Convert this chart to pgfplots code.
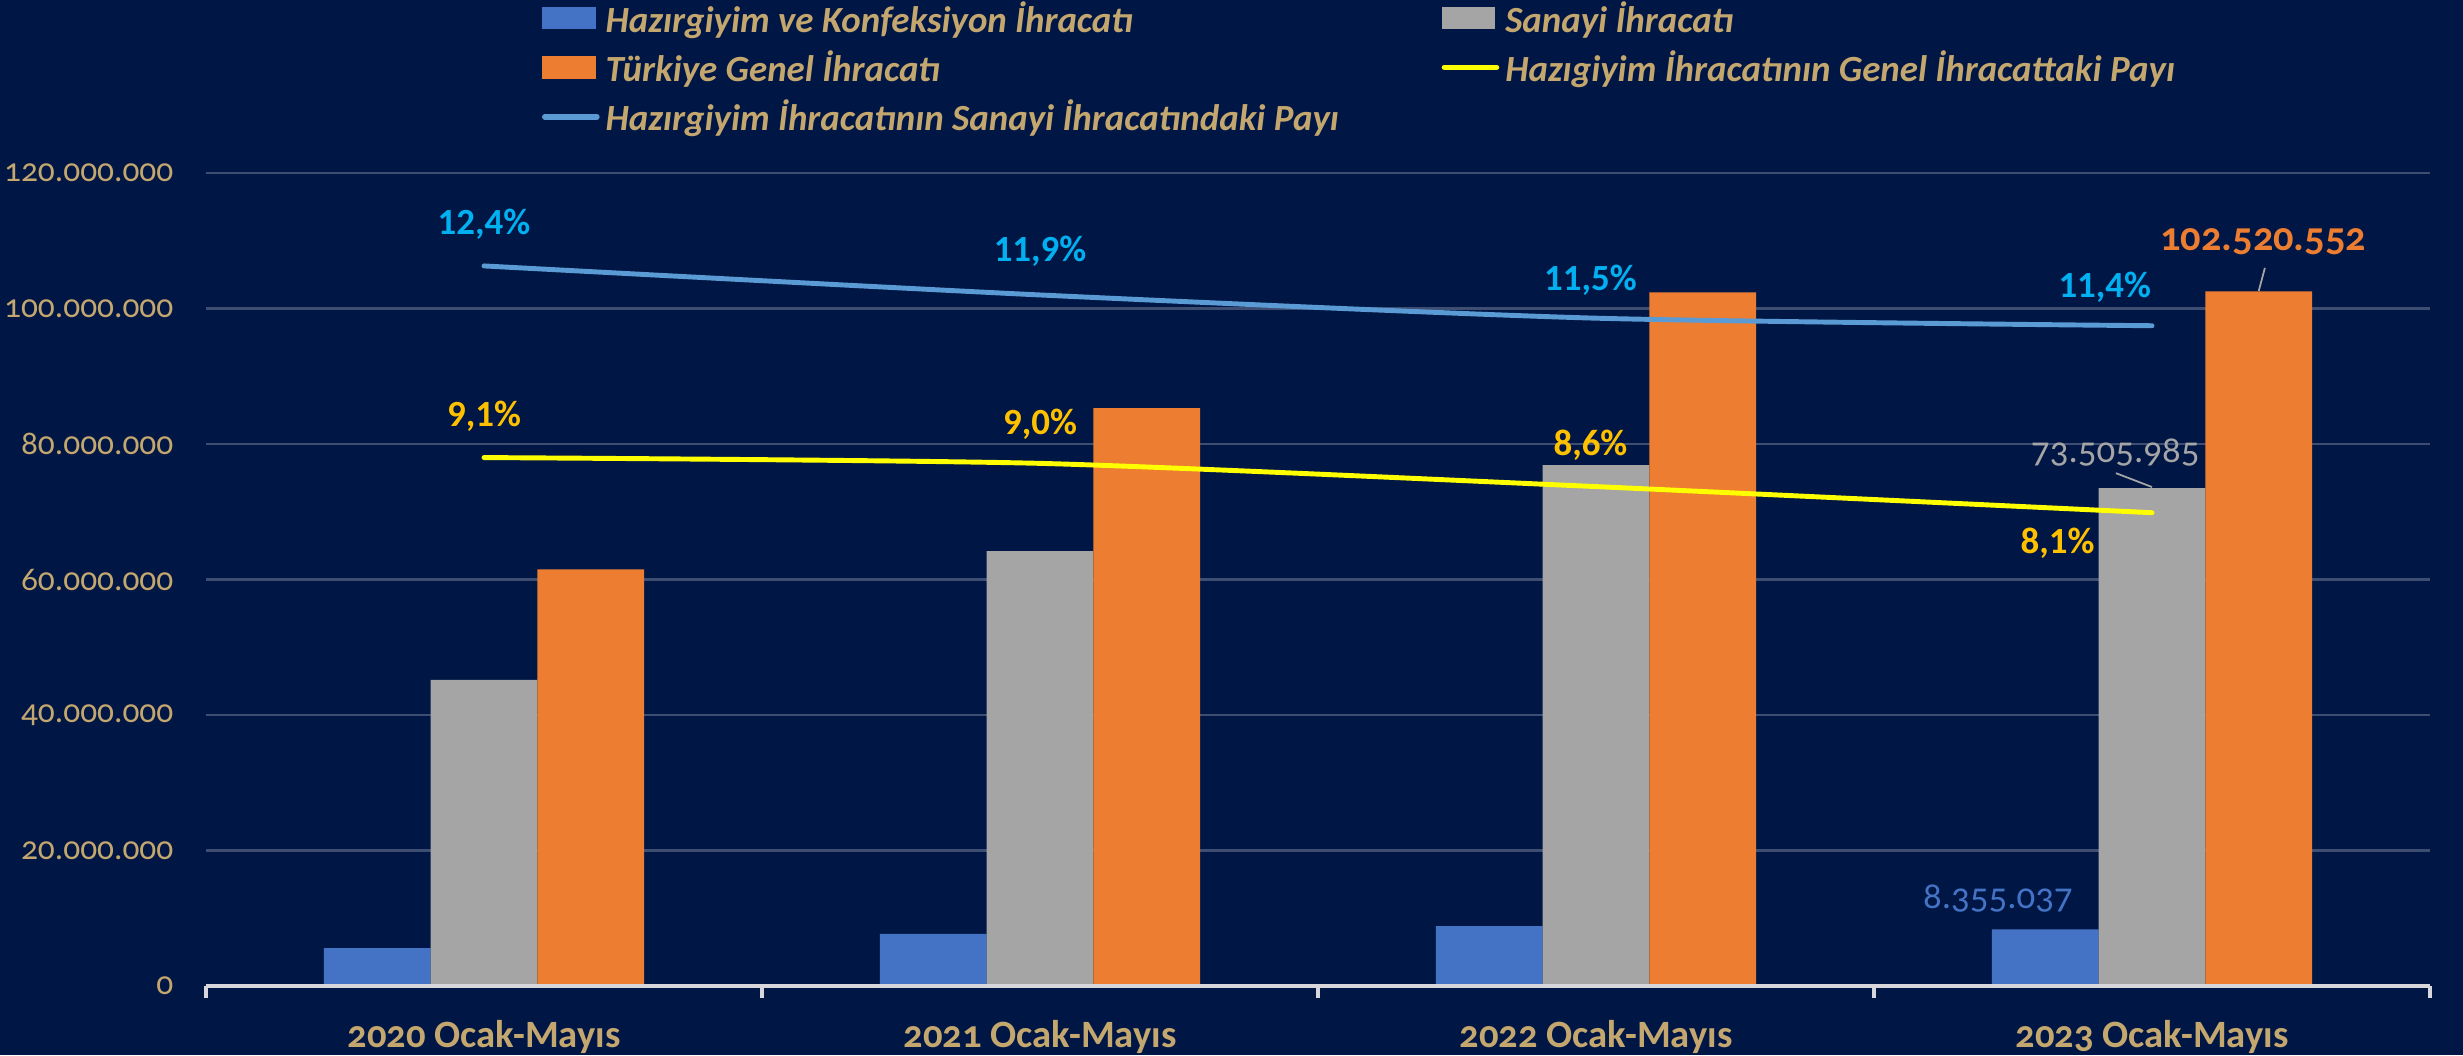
\documentclass[border=0pt]{standalone}
\usepackage{pgfplots}
\pgfplotsset{compat=1.18}
\usepackage{pgfplotstable}
\usepackage{fontspec}
\setmainfont{Carlito}[Numbers=OldStyle]
\newfontfamily\linfont{Carlito}[Numbers=Lining]
\definecolor{bg}{RGB}{0,23,69}
\definecolor{tan}{RGB}{196,167,110}
\definecolor{cbar}{HTML}{4472C4}
\definecolor{gbar}{HTML}{A5A5A5}
\definecolor{obar}{HTML}{ED7D31}
\definecolor{bline}{HTML}{5B9BD5}
\definecolor{yline}{HTML}{FFFF00}
\definecolor{cyanlab}{HTML}{00B0F0}
\definecolor{goldlab}{HTML}{FFC000}
\definecolor{gridc}{RGB}{62,78,115}
\definecolor{axisc}{RGB}{215,215,220}

\pgfplotstableread{
x blue grey orange
0 5600000 45200000 61500000
1 7680000 64200000 85300000
2 8850000 76900000 102400000
3 8355037 73505985 102520552
}\bars
\pgfplotstableread{
x gen san
0 9.1 12.4
1 9.0 11.9
2 8.6 11.5
3 8.15 11.37
}\shares

\newcommand{\legtxt}[1]{\raisebox{0pt}[0.33cm][0.15cm]{#1}}
\newcommand{\legtxtw}[1]{\raisebox{0pt}[0.33cm][0.15cm]{\makebox[8.3cm][l]{#1}}}

\begin{document}
\begin{tikzpicture}
\fill[bg] (-2.06cm,-0.69cm) rectangle (22.57cm,9.86cm);
\begin{axis}[
  at={(0,0)}, anchor=south west,
  scale only axis, width=22.24cm, height=8.13cm,
  xmin=-0.5, xmax=3.5, ymin=0, ymax=120000000,
  ybar=0pt, bar width=0.192,
  axis line style={draw=none},
  xtick={0,1,2,3},
  xticklabels={2020 Ocak-Mayıs, 2021 Ocak-Mayıs, 2022 Ocak-Mayıs, 2023 Ocak-Mayıs},
  ytick={0,20000000,40000000,60000000,80000000,100000000,120000000},
  scaled y ticks=false,
  /pgf/number format/assume math mode=true,
  yticklabel style={/pgf/number format/fixed, /pgf/number format/precision=0, /pgf/number format/1000 sep={.},
    font=\fontsize{9.5}{11}\selectfont, text=tan, anchor=east, inner sep=0pt, xshift=-0.32cm},
  xticklabel style={font=\fontsize{11}{13}\selectfont\bfseries, text=tan, anchor=north, inner sep=0pt, yshift=-0.34cm},
  ymajorgrids, grid style={gridc, line width=0.6pt},
  major tick length=0pt,
  tick style={draw=none},
  tick pos=left,
  extra x ticks={-0.5,0.5,1.5,2.5,3.5},
  extra x tick labels={},
  extra x tick style={major tick length=0.12cm, tick align=outside, tick style={draw=axisc, line width=1pt}},
  extra description/.code={\draw[axisc, line width=1pt] (rel axis cs:0,0) -- (rel axis cs:1,0);},
  clip=false,
]
\addplot[fill=cbar, draw=none] table[x=x, y=blue] {\bars};
\addplot[fill=gbar, draw=none] table[x=x, y=grey] {\bars};
\addplot[fill=obar, draw=none] table[x=x, y=orange] {\bars};
\node[text=cbar, font=\fontsize{10.5}{12}\selectfont] at (axis cs:2.723,12970000) {8.355.037};
\node[text=gbar, font=\fontsize{10.5}{12}\selectfont] at (axis cs:2.934,78800000) {73.505.985};
\node[text=obar, font=\fontsize{11.5}{13}\selectfont\bfseries] at (axis cs:3.20,109800000) {102.520.552};
\draw[gbar, line width=0.5pt] (axis cs:2.935,75700000) -- (axis cs:3.0,73650000);
\draw[gbar, line width=0.5pt] (axis cs:3.203,106000000) -- (axis cs:3.192,102600000);
\end{axis}
\begin{axis}[
  at={(0,0)}, anchor=south west,
  scale only axis, width=22.24cm, height=8.13cm,
  xmin=-0.5, xmax=3.5, ymin=0, ymax=14,
  hide axis, clip=false,
  legend columns=2,
  legend cell align=left,
  legend style={at={(0.1511,1.214)}, anchor=north west, draw=none, fill=none,
    inner sep=0pt, outer sep=0pt, row sep=0.11cm,
    font=\fontsize{10.5}{12}\selectfont\bfseries\itshape, text=tan,
    nodes={inner xsep=0.06cm, inner ysep=0pt}},
]
\addlegendimage{legend image code/.code={\fill[cbar] (0cm,-0.105cm) rectangle (0.52cm,0.105cm);}}
\addlegendentry{\legtxtw{Hazırgiyim ve Konfeksiyon İhracatı}}
\addlegendimage{legend image code/.code={\fill[gbar] (0cm,-0.105cm) rectangle (0.52cm,0.105cm);}}
\addlegendentry{\legtxt{Sanayi İhracatı}}
\addlegendimage{legend image code/.code={\fill[obar] (0cm,-0.105cm) rectangle (0.52cm,0.105cm);}}
\addlegendentry{\legtxtw{Türkiye Genel İhracatı}}
\addplot[yline, line width=1.4pt, line cap=round, smooth, tension=0.4,
  legend image code/.code={\draw[yline, line width=1.6pt, line cap=round] (0.02cm,0cm) -- (0.54cm,0cm);}]
  table[x=x, y=gen] {\shares};
\addlegendentry{\legtxt{Hazıgiyim İhracatının Genel İhracattaki Payı}}
\addplot[bline, line width=1.4pt, line cap=round, smooth, tension=0.4,
  legend image code/.code={\draw[bline, line width=1.6pt, line cap=round] (0.02cm,0cm) -- (0.54cm,0cm);}]
  table[x=x, y=san] {\shares};
\addlegendentry{\legtxtw{Hazırgiyim İhracatının Sanayi İhracatındaki Payı}}
\begin{scope}[font=\linfont\fontsize{10.5}{12}\selectfont\bfseries]
\node[text=cyanlab] at (axis cs:0,13.11) {12,4\%};
\node[text=cyanlab] at (axis cs:1.0,12.65) {11,9\%};
\node[text=cyanlab] at (axis cs:1.99,12.16) {11,5\%};
\node[text=cyanlab] at (axis cs:2.915,12.03) {11,4\%};
\node[text=goldlab] at (axis cs:0,9.81) {9,1\%};
\node[text=goldlab] at (axis cs:1.0,9.68) {9,0\%};
\node[text=goldlab] at (axis cs:1.99,9.32) {8,6\%};
\node[text=goldlab] at (axis cs:2.83,7.62) {8,1\%};
\end{scope}
\end{axis}
\pgfresetboundingbox
\useasboundingbox (-2.06cm,-0.69cm) rectangle (22.57cm,9.86cm);
\end{tikzpicture}
\end{document}
